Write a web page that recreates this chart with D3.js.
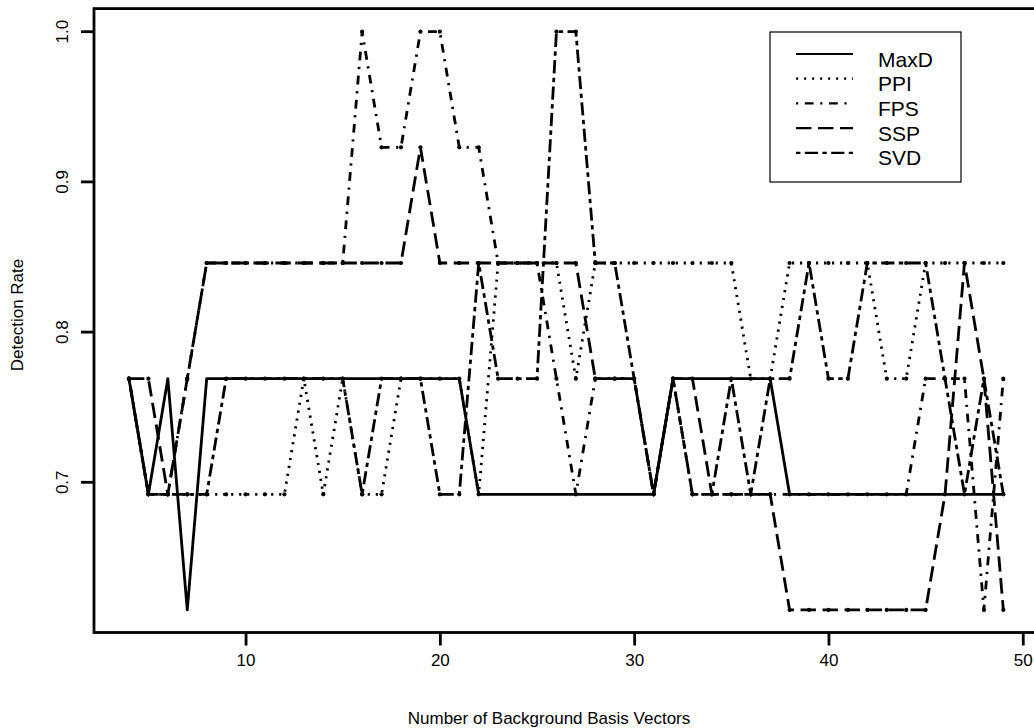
<!DOCTYPE html>
<html>
<head>
<meta charset="utf-8">
<script src="https://cdn.jsdelivr.net/npm/d3@7"></script>
<style>
  body { margin: 0; background: #fff; }
  text { font-family: "Liberation Sans", Arial, sans-serif; fill: #000; }
</style>
</head>
<body>
<svg id="chart"></svg>
<script>
// number of background basis vectors (x)
const basisVectors = [4,5,6,7,8,9,10,11,12,13,14,15,16,17,18,19,20,21,22,23,24,25,26,
                      27,28,29,30,31,32,33,34,35,36,37,38,39,40,41,42,43,44,45,46,47,48,49];

// detection rate per method
const maxD = [0.769,0.692,0.769,0.615,0.769,0.769,0.769,0.769,0.769,0.769,0.769,0.769,0.769,0.769,0.769,0.769,0.769,0.769,
              0.692,0.692,0.692,0.692,0.692,0.692,0.692,0.692,0.692,0.692,
              0.769,0.769,0.769,0.769,0.769,0.769,
              0.692,0.692,0.692,0.692,0.692,0.692,0.692,0.692,0.692,0.692,0.692,0.692];
const ppi  = [0.769,0.692,0.692,0.692,0.692,0.692,0.692,0.692,0.692,0.769,0.692,0.769,0.692,0.692,0.769,0.769,0.769,0.769,
              0.692,0.846,0.846,0.846,0.846,0.769,0.846,0.846,0.846,0.846,0.846,0.846,0.846,0.846,0.769,0.769,
              0.846,0.846,0.846,0.846,0.846,0.769,0.769,0.846,0.846,0.846,0.846,0.846];
const fps  = [0.769,0.692,0.692,0.769,0.846,0.846,0.846,0.846,0.846,0.846,0.846,0.846,1.000,0.923,0.923,1.000,1.000,0.923,
              0.923,0.846,0.846,0.846,0.769,0.692,0.769,0.769,0.769,0.692,0.769,0.692,0.692,0.692,0.692,0.692,
              0.692,0.692,0.692,0.692,0.692,0.692,0.692,0.769,0.769,0.769,0.615,0.769];
const ssp  = [0.769,0.769,0.692,0.769,0.846,0.846,0.846,0.846,0.846,0.846,0.846,0.846,0.846,0.846,0.846,0.923,0.846,0.846,
              0.846,0.846,0.846,0.846,0.846,0.846,0.769,0.769,0.769,0.692,0.769,0.769,0.692,0.692,0.692,0.692,
              0.615,0.615,0.615,0.615,0.615,0.615,0.615,0.615,0.692,0.846,0.769,0.615];
const svd  = [0.769,0.692,0.692,0.692,0.692,0.769,0.769,0.769,0.769,0.769,0.769,0.769,0.692,0.769,0.769,0.769,0.692,0.692,
              0.846,0.769,0.769,0.769,1.000,1.000,0.846,0.846,0.769,0.692,0.769,0.692,0.692,0.769,0.692,0.769,
              0.769,0.846,0.769,0.769,0.846,0.846,0.846,0.846,0.769,0.692,0.769,0.692];

const seriesNames = ["MaxD", "PPI", "FPS", "SSP", "SVD"];
const xTicks = [10, 20, 30, 40, 50];
const yTicks = [0.7, 0.8, 0.9, 1.0];

// R style line types: solid, dotted, dotdash, longdash, twodash
const dashes = ["none", "2.2,5.8", "2.2,6.6,8.8,6.6", "15.4,6.6", "4.4,4.4,13.2,4.4"];

const svgWidth = 1034, svgHeight = 728;
const plot = {left: 94, right: 1038.3, top: 8.6, bottom: 632.5};

const chart = d3.select("#chart")
    .attr("width", svgWidth)
    .attr("height", svgHeight);

var xScale = d3.scaleLinear().domain([2.2, 50.8]).range([plot.left, plot.right]);
var yScale = d3.scaleLinear().domain([0.6, 1.01538]).range([plot.bottom, plot.top]);

var valueline = d3.line()
    .x(function(d){ return xScale(d.x); })
    .y(function(d){ return yScale(d.y); });

const allSeries = [maxD, ppi, fps, ssp, svd].map(function(vals, i){
    return {
        name: seriesNames[i],
        dash: dashes[i],
        points: vals.map(function(v, j){ return {x: basisVectors[j], y: v}; })
    };
});

// lines
const lines = chart.append("g");
allSeries.forEach(function(s){
    lines.append("path")
        .datum(s.points)
        .attr("d", valueline)
        .attr("fill", "none")
        .attr("stroke", "#000")
        .attr("stroke-width", 2.8)
        .attr("stroke-linejoin", "round")
        .attr("stroke-dasharray", s.dash);
    if (s.dash != "none") {
        // small blobs where the dashed lines turn
        lines.append("g").selectAll("circle")
            .data(s.points)
            .enter()
            .append("circle")
            .attr("cx", function(d){ return xScale(d.x); })
            .attr("cy", function(d){ return yScale(d.y); })
            .attr("r", 2.1)
            .attr("fill", "#000");
    }
});

// box
chart.append("rect")
    .attr("x", plot.left).attr("y", plot.top)
    .attr("width", plot.right - plot.left).attr("height", plot.bottom - plot.top)
    .attr("fill", "none").attr("stroke", "#000").attr("stroke-width", 2.8);

// x axis
var xAxis = d3.axisBottom(xScale).tickValues(xTicks).tickSize(13).tickPadding(8);
const gx = chart.append("g")
    .attr("transform", "translate(0," + plot.bottom + ")")
    .call(xAxis);
gx.select(".domain").remove();
gx.selectAll("line").attr("stroke-width", 2.8);
gx.selectAll("text").attr("font-size", 17).attr("font-family", "Liberation Sans, Arial, sans-serif");

// y axis, labels turned like R's default
var yAxis = d3.axisLeft(yScale).tickValues(yTicks).tickSize(13).tickFormat(d3.format(".1f"));
const gy = chart.append("g")
    .attr("transform", "translate(" + plot.left + ",0)")
    .call(yAxis);
gy.select(".domain").remove();
gy.selectAll("line").attr("stroke-width", 2.8);
gy.selectAll("text")
    .attr("font-size", 17)
    .attr("font-family", "Liberation Sans, Arial, sans-serif")
    .attr("x", null).attr("dy", null)
    .attr("text-anchor", "middle")
    .attr("dominant-baseline", "central")
    .attr("transform", function(d){ return "translate(-32," + yScale(d) + ") rotate(-90)"; })
    .attr("y", 0);
gy.selectAll(".tick").attr("transform", null);
gy.selectAll(".tick line").attr("transform", function(d){ return "translate(0," + yScale(d) + ")"; });

chart.append("text")
    .attr("x", 549)
    .attr("y", 718)
    .attr("text-anchor", "middle")
    .attr("dominant-baseline", "central")
    .attr("font-size", 17)
    .text("Number of Background Basis Vectors");

chart.append("text")
    .attr("transform", "translate(17,315) rotate(-90)")
    .attr("text-anchor", "middle")
    .attr("dominant-baseline", "central")
    .attr("font-size", 17)
    .text("Detection Rate");

// legend
const legend = chart.append("g").attr("transform", "translate(770,32)");
legend.append("rect")
    .attr("width", 191).attr("height", 150)
    .attr("fill", "#fff").attr("stroke", "#000").attr("stroke-width", 1.2);
allSeries.forEach(function(s, i){
    const row = legend.append("g").attr("transform", "translate(0," + (22 + i * 24.7) + ")");
    row.append("line")
        .attr("x1", 26).attr("x2", 83)
        .attr("stroke", "#000").attr("stroke-width", 2.2)
        .attr("stroke-dasharray", s.dash);
    row.append("text")
        .attr("x", 108).attr("y", 5)
        .attr("dominant-baseline", "central")
        .attr("font-size", 21)
        .text(s.name);
});
</script>
</body>
</html>
